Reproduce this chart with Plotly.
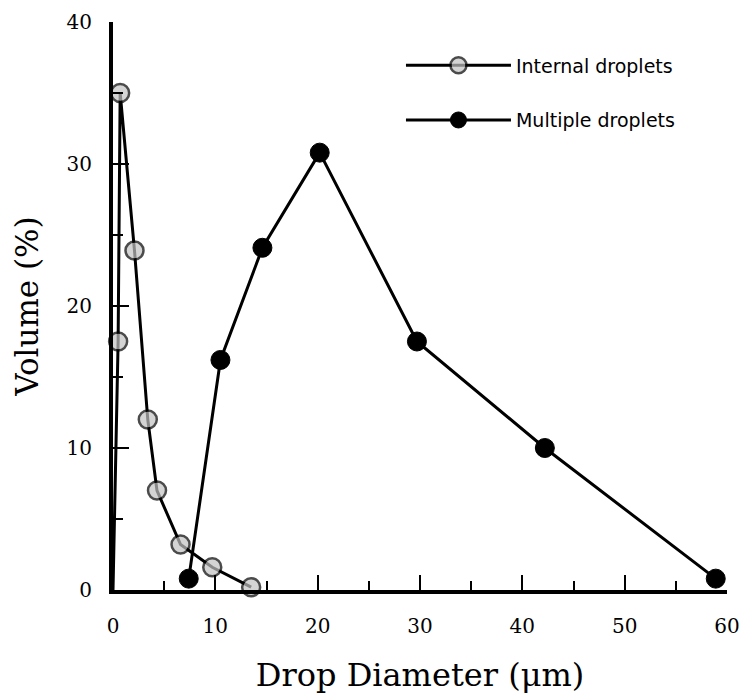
import plotly.graph_objects as go

# Internal droplets (first point is the line start on the axis, no marker)
internal_x = [0.0, 0.5, 0.7, 2.1, 3.4, 4.3, 6.6, 9.7, 13.5]
internal_y = [0.0, 17.5, 35.0, 23.9, 12.0, 7.0, 3.2, 1.6, 0.2]
internal_marker = [0, 18, 18, 18, 18, 18, 18, 18, 18]

# Multiple droplets
multiple_x = [7.4, 10.5, 14.6, 20.2, 29.7, 42.2, 58.9]
multiple_y = [0.8, 16.2, 24.1, 30.8, 17.5, 10.0, 0.8]

x_ticks = [0, 10, 20, 30, 40, 50, 60]
y_ticks = [0, 10, 20, 30, 40]

fig = go.Figure()
fig.add_trace(go.Scatter(
    x=internal_x, y=internal_y, mode="lines+markers", name="Internal droplets",
    legendgroup="a",
    line=dict(color="black", width=3),
    marker=dict(size=internal_marker, color="#c2c2c2", line=dict(color="black", width=2.5)),
    cliponaxis=False,
))
fig.add_trace(go.Scatter(
    x=multiple_x, y=multiple_y, mode="lines+markers", name="Multiple droplets",
    legendgroup="b",
    line=dict(color="black", width=3),
    marker=dict(size=19, color="black", line=dict(color="black", width=1)),
    cliponaxis=False,
))

serif = "DejaVu Serif"
fig.update_layout(
    width=742, height=697,
    margin=dict(l=113, r=15, t=22, b=107, autoexpand=False),
    plot_bgcolor="white", paper_bgcolor="white",
    showlegend=True,
    legend=dict(x=0.469, y=0.957, xanchor="left", yanchor="top",
                font=dict(family="DejaVu Sans", size=19, color="black"),
                bgcolor="rgba(0,0,0,0)", traceorder="grouped", tracegroupgap=27,
                itemwidth=105),
)
fig.update_xaxes(
    range=[0, 60], tickvals=x_ticks, ticktext=[str(v) for v in x_ticks],
    automargin=False,
    showline=True, linecolor="black", linewidth=4, showgrid=False, zeroline=False,
    ticks="inside", ticklen=15, tickwidth=2, tickcolor="black",
    minor=dict(dtick=5, ticks="inside", ticklen=9, tickwidth=1.5, tickcolor="black"),
    tickfont=dict(family=serif, size=20, color="black"),
    ticklabelstandoff=15,
    title=dict(text="Drop Diameter (μm)", font=dict(family=serif, size=32, color="black"), standoff=28),
)
fig.update_yaxes(
    range=[0, 40], tickvals=y_ticks, ticktext=[str(v) for v in y_ticks],
    automargin=False,
    showline=True, linecolor="black", linewidth=4, showgrid=False, zeroline=False,
    ticks="inside", ticklen=16, tickwidth=2, tickcolor="black",
    minor=dict(dtick=5, ticks="inside", ticklen=10, tickwidth=1.5, tickcolor="black"),
    tickfont=dict(family=serif, size=20, color="black"),
    ticklabelstandoff=13,
    title=dict(text="Volume (%)", font=dict(family=serif, size=31, color="black"), standoff=20),
)

fig.write_html(
    "out.html",
    config={"displayModeBar": False},
    post_script="document.body.style.margin='0';document.body.style.overflow='hidden';",
)
